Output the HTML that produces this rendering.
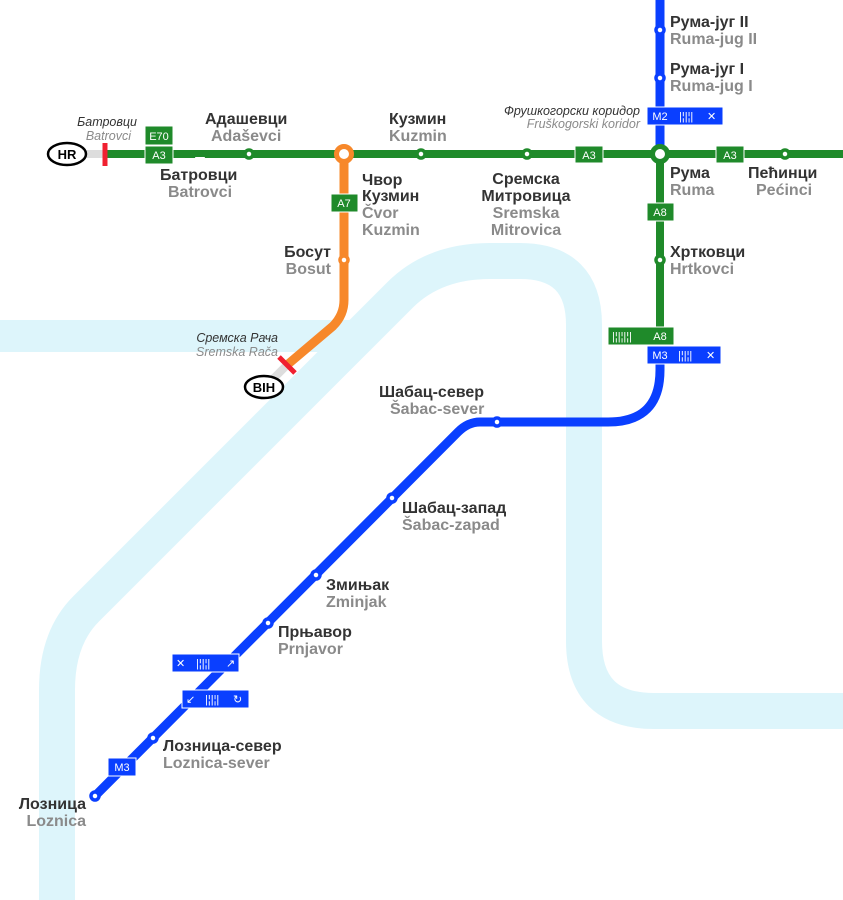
<!DOCTYPE html>
<html><head><meta charset="utf-8"><style>
html,body{margin:0;padding:0;background:#fff;}
svg{display:block;font-family:"Liberation Sans",sans-serif;}
.n{font-weight:bold;font-size:16px;fill:#333;}
.l{font-weight:bold;font-size:16px;fill:#8a8a8a;}
.ni{font-style:italic;font-size:12.5px;fill:#333;}
.li{font-style:italic;font-size:12.5px;fill:#8a8a8a;}
.s{font-size:11px;fill:#fff;}
</style></head><body>
<svg width="843" height="900" viewBox="0 0 843 900" xmlns="http://www.w3.org/2000/svg">
<!-- river -->
<g fill="none" stroke="#ddf5fb" stroke-width="36">
<path d="M57,910 L57,690 Q57,638 86,609 L400,295 Q434,261 490,261 L520,261 Q584,261 584,325 L584,641 Q584,711 654,711 L850,711"/>
</g>
<rect x="0" y="320" width="360" height="32" fill="#ddf5fb"/>

<!-- gray stubs -->
<line x1="80" y1="154" x2="105" y2="154" stroke="#ddd" stroke-width="8"/>
<line x1="287" y1="365" x2="268" y2="384" stroke="#ddd" stroke-width="8"/>

<!-- orange -->
<path d="M344,154 L344,300 Q344,315 333,326 L287,365" fill="none" stroke="#f7882a" stroke-width="9"/>
<!-- green -->
<line x1="105" y1="154" x2="843" y2="154" stroke="#1f8a2a" stroke-width="8"/>
<line x1="660" y1="154" x2="660" y2="345" stroke="#1f8a2a" stroke-width="8"/>
<!-- blue -->
<line x1="660" y1="0" x2="660" y2="150" stroke="#0a3fff" stroke-width="9"/>
<path d="M660,350 L660,370 Q660,422 608,422 L480,422 Q468,422 458,432 L95,796" fill="none" stroke="#0a3fff" stroke-width="9"/>

<!-- red border bars -->
<line x1="105" y1="143" x2="105" y2="166" stroke="#f02030" stroke-width="5"/>
<line x1="279" y1="357" x2="295" y2="373" stroke="#f02030" stroke-width="5"/>

<!-- country ovals -->
<ellipse cx="67" cy="154" rx="19" ry="11" fill="#fff" stroke="#000" stroke-width="2.5"/>
<text x="67" y="159" text-anchor="middle" font-weight="bold" font-size="13">HR</text>
<ellipse cx="264" cy="387" rx="19" ry="11" fill="#fff" stroke="#000" stroke-width="2.5"/>
<text x="264" y="392" text-anchor="middle" font-weight="bold" font-size="13">BIH</text>

<!-- stations -->
<g fill="#fff" stroke="#1f8a2a" stroke-width="3.5">
<circle cx="249" cy="154" r="4"/><circle cx="421" cy="154" r="4"/><circle cx="527" cy="154" r="4"/>
<circle cx="785" cy="154" r="4"/><circle cx="660" cy="260" r="4"/>
<circle cx="660" cy="154" r="7.5" stroke-width="5"/>
</g>
<path d="M195,157 L205,157 Q204,162 200,162 Q196,162 195,157Z" fill="#fff"/>
<g fill="#fff" stroke="#f7882a" stroke-width="3.5">
<circle cx="344" cy="260" r="4"/><circle cx="344" cy="154" r="7.5" stroke-width="5"/>
</g>
<g fill="#fff" stroke="#0a3fff" stroke-width="3.5">
<circle cx="660" cy="30" r="4"/><circle cx="660" cy="78" r="4"/>
<circle cx="497" cy="422" r="4"/><circle cx="392" cy="498" r="4"/><circle cx="316" cy="575" r="4"/>
<circle cx="268" cy="623" r="4"/><circle cx="153" cy="738" r="4"/><circle cx="95" cy="796" r="4"/>
</g>

<!-- shields -->
<g>
<rect x="145" y="126" width="28" height="19" fill="#1f8a2a" stroke="#fff"/><text x="159" y="140" class="s" text-anchor="middle">E70</text>
<rect x="145" y="146" width="28" height="18" fill="#1f8a2a" stroke="#fff"/><text x="159" y="159" class="s" text-anchor="middle">A3</text>
<rect x="575" y="146" width="28" height="17" fill="#1f8a2a" stroke="#fff"/><text x="589" y="159" class="s" text-anchor="middle">A3</text>
<rect x="716" y="146" width="28" height="17" fill="#1f8a2a" stroke="#fff"/><text x="730" y="159" class="s" text-anchor="middle">A3</text>
<rect x="331" y="194" width="27" height="18" fill="#1f8a2a" stroke="#fff"/><text x="344" y="207" class="s" text-anchor="middle">A7</text>
<rect x="647" y="203" width="27" height="18" fill="#1f8a2a" stroke="#fff"/><text x="660" y="216" class="s" text-anchor="middle">A8</text>
<rect x="608" y="327" width="66" height="18" fill="#1f8a2a" stroke="#fff"/><text x="660" y="340" class="s" text-anchor="middle">A8</text>
<text x="612" y="340" class="s" font-size="10">|¦|¦|¦|</text>
<rect x="647" y="346" width="74" height="18" fill="#0a3fff" stroke="#fff"/><text x="660" y="359" class="s" text-anchor="middle">M3</text>
<text x="678" y="359" class="s" font-size="10">|¦|¦|</text><text x="706" y="359" class="s">✕</text>
<rect x="647" y="107" width="76" height="18" fill="#0a3fff" stroke="#fff"/><text x="660" y="120" class="s" text-anchor="middle">M2</text>
<text x="679" y="120" class="s" font-size="10">|¦|¦|</text><text x="707" y="120" class="s">✕</text>
<rect x="108" y="758" width="28" height="18" fill="#0a3fff" stroke="#fff"/><text x="122" y="771" class="s" text-anchor="middle">M3</text>
<rect x="172" y="654" width="67" height="18" fill="#0a3fff" stroke="#fff"/><text x="176" y="667" class="s">✕</text><text x="196" y="667" class="s" font-size="10">|¦|¦|</text><text x="226" y="667" class="s">↗</text>
<rect x="182" y="690" width="67" height="18" fill="#0a3fff" stroke="#fff"/><text x="186" y="703" class="s">↙</text><text x="205" y="703" class="s" font-size="10">|¦|¦|</text><text x="233" y="703" class="s">↻</text>
</g>

<!-- labels -->
<text x="137" y="126" class="ni" text-anchor="end">Батровци</text>
<text x="131" y="140" class="li" text-anchor="end">Batrovci</text>
<text x="205" y="124" class="n">Адашевци</text><text x="211" y="141" class="l">Adaševci</text>
<text x="160" y="180" class="n">Батровци</text><text x="168" y="197" class="l">Batrovci</text>
<text x="389" y="124" class="n">Кузмин</text><text x="389" y="141" class="l">Kuzmin</text>
<text x="362" y="185" class="n">Чвор</text><text x="362" y="201" class="n">Кузмин</text>
<text x="362" y="218" class="l">Čvor</text><text x="362" y="235" class="l">Kuzmin</text>
<text x="331" y="257" class="n" text-anchor="end">Босут</text><text x="331" y="274" class="l" text-anchor="end">Bosut</text>
<text x="278" y="342" class="ni" text-anchor="end">Сремска Рача</text>
<text x="278" y="356" class="li" text-anchor="end">Sremska Rača</text>
<text x="526" y="184" class="n" text-anchor="middle">Сремска</text><text x="526" y="201" class="n" text-anchor="middle">Митровица</text>
<text x="526" y="218" class="l" text-anchor="middle">Sremska</text><text x="526" y="235" class="l" text-anchor="middle">Mitrovica</text>
<text x="640" y="115" class="ni" text-anchor="end">Фрушкогорски коридор</text>
<text x="640" y="128" class="li" text-anchor="end">Fruškogorski koridor</text>
<text x="670" y="27" class="n">Рума-југ II</text><text x="670" y="44" class="l">Ruma-jug II</text>
<text x="670" y="74" class="n">Рума-југ I</text><text x="670" y="91" class="l">Ruma-jug I</text>
<text x="670" y="178" class="n">Рума</text><text x="670" y="195" class="l">Ruma</text>
<text x="748" y="178" class="n">Пећинци</text><text x="756" y="195" class="l">Pećinci</text>
<text x="670" y="257" class="n">Хртковци</text><text x="670" y="274" class="l">Hrtkovci</text>
<text x="379" y="397" class="n">Шабац-север</text><text x="390" y="414" class="l">Šabac-sever</text>
<text x="402" y="513" class="n">Шабац-запад</text><text x="402" y="530" class="l">Šabac-zapad</text>
<text x="326" y="590" class="n">Змињак</text><text x="326" y="607" class="l">Zminjak</text>
<text x="278" y="637" class="n">Прњавор</text><text x="278" y="654" class="l">Prnjavor</text>
<text x="163" y="751" class="n">Лозница-север</text><text x="163" y="768" class="l">Loznica-sever</text>
<text x="86" y="809" class="n" text-anchor="end">Лозница</text><text x="86" y="826" class="l" text-anchor="end">Loznica</text>
</svg>
</body></html>
